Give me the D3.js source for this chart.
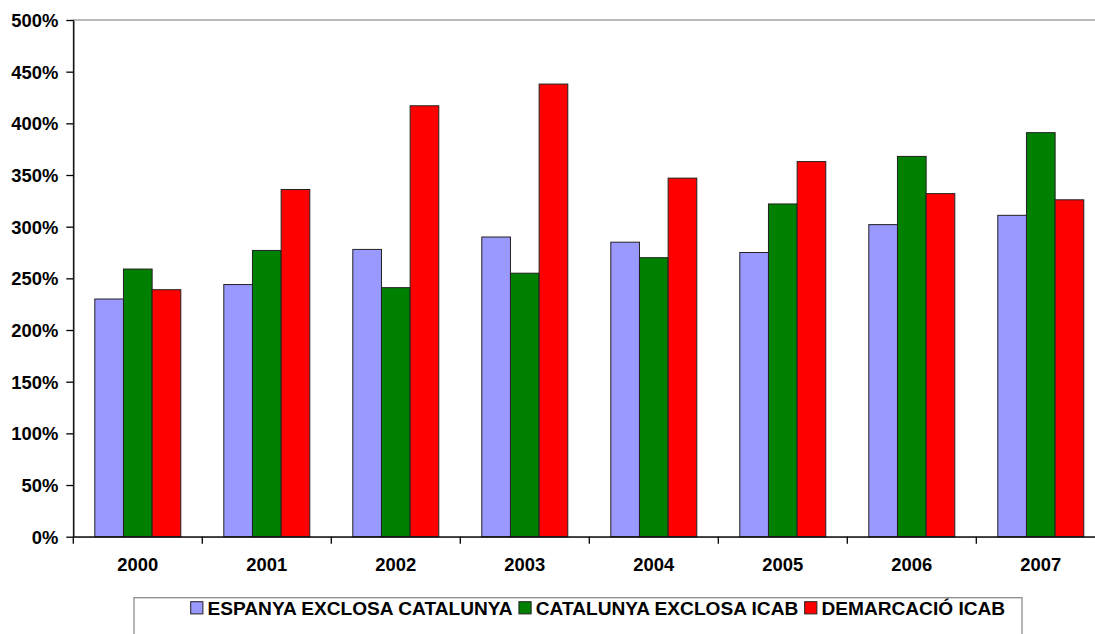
<!DOCTYPE html>
<html><head><meta charset="utf-8">
<script src="https://cdn.jsdelivr.net/npm/d3@7"></script>
<style>
html,body{margin:0;padding:0;background:#fff;}
svg text{font-family:"Liberation Sans",Arial,sans-serif;font-weight:bold;fill:#000;}
</style></head>
<body>
<svg id="c" width="1095" height="634"></svg>
<script>
const years = ['2000','2001','2002','2003','2004','2005','2006','2007'];
const seriesNames = ['ESPANYA EXCLOSA CATALUNYA','CATALUNYA EXCLOSA ICAB','DEMARCACIÓ ICAB'];
const espanya   = [230, 244, 278, 290, 285, 275, 302, 311];
const catalunya = [259, 277, 241, 255, 270, 322, 368, 391];
const icab      = [239, 336, 417, 438, 347, 363, 332, 326];
const colors = ['#9999FF','#008000','#FF0000'];
const yTicks = [0,50,100,150,200,250,300,350,400,450,500];

const seriesValues = [espanya, catalunya, icab];
const svg = d3.select('#c');
const L = 73.3, R = 1105.3, T = 20, B = 536.7;

const x = d3.scaleBand().domain(years).range([L, R]).padding(0);
const xs = d3.scaleBand().domain(d3.range(3)).range([0, x.bandwidth()]).paddingInner(0).paddingOuter(0.75);
const y = d3.scaleLinear().domain([0, 500]).range([B, T]);

// plot area border
svg.append('rect').attr('x', L).attr('y', T).attr('width', R - L).attr('height', B - T)
  .attr('fill', 'none').attr('stroke', '#8c8c8c').attr('stroke-width', 1.2);

// bars
const rows = years.map((yr, i) => ({yr, vals: seriesValues.map(s => s[i])}));
const g = svg.append('g');
g.selectAll('g.grp').data(rows).join('g').attr('class','grp')
  .attr('transform', d => `translate(${x(d.yr)},0)`)
  .selectAll('rect').data(d => d.vals.map((v, k) => ({v, k}))).join('rect')
  .attr('x', d => xs(d.k)).attr('width', xs.bandwidth())
  .attr('y', d => y(d.v)).attr('height', d => B - y(d.v))
  .attr('fill', d => colors[d.k]).attr('stroke', '#222').attr('stroke-width', 1);

// y axis
const ya = svg.append('g').attr('transform', `translate(${L},0)`)
  .call(d3.axisLeft(y).tickValues(yTicks).tickFormat(d => d + '%').tickSize(7).tickSizeOuter(0).tickPadding(8));
ya.selectAll('text').style('font-size', '18.4px').attr('dy', '0.35em');
ya.selectAll('line,path').attr('stroke', '#000').attr('stroke-width', 1.3);

// x axis
const xa = svg.append('g').attr('transform', `translate(0,${B})`)
  .call(d3.axisBottom(x).tickSize(0).tickPadding(0));
xa.selectAll('text').style('font-size', '18.4px').attr('y', 34).attr('dy', 0);
xa.selectAll('path').attr('stroke', '#000').attr('stroke-width', 1.3);
const bounds = years.map(d => x(d)).concat([R]);
xa.selectAll('line.bt').data(bounds).join('line').attr('class','bt')
  .attr('x1', d => d).attr('x2', d => d).attr('y1', 0).attr('y2', 7)
  .attr('stroke', '#000').attr('stroke-width', 1.3);

// legend
svg.append('rect').attr('x', 134).attr('y', 597.7).attr('width', 888).attr('height', 80)
  .attr('fill', '#fff').attr('stroke', '#8c8c8c').attr('stroke-width', 1.3);
let lx = 190.7;
const lg = svg.append('g');
const stretch = 1.05;
seriesNames.forEach((name, k) => {
  lg.append('rect').attr('x', lx).attr('y', 601.7).attr('width', 12.2).attr('height', 12.2)
    .attr('fill', colors[k]).attr('stroke', '#222').attr('stroke-width', 1);
  const tx = lx + 16.8;
  const t = lg.append('text').attr('transform', `translate(${tx},615) scale(${stretch},1)`)
    .style('font-size', '18.2px').text(name);
  lx = tx + t.node().getComputedTextLength() * stretch + 6.4;
});
</script>
</body></html>
